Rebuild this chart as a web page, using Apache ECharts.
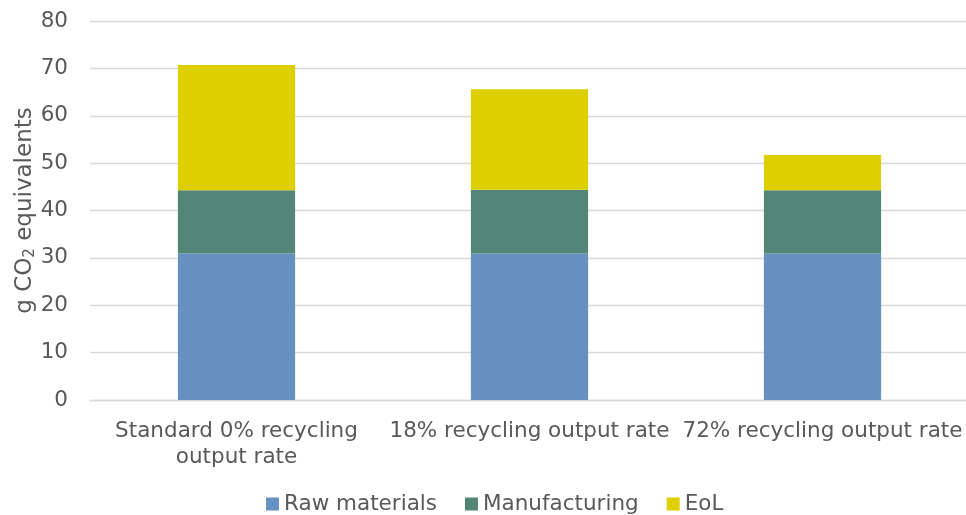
<!DOCTYPE html>
<html>
<head>
<meta charset="utf-8">
<script src="https://cdn.jsdelivr.net/npm/echarts@6/dist/echarts.min.js"></script>
<style>
html,body{margin:0;padding:0;background:#fff;}
#chart{width:966px;height:515px;}
</style>
</head>
<body>
<div id="chart"></div>
<script>
const categories = ["Standard 0% recycling\noutput rate", "18% recycling output rate", "72% recycling output rate"];
const rawMaterials = [30.9, 30.9, 30.9];
const manufacturing = [13.4, 13.5, 13.4];
const eol = [26.4, 21.2, 7.4];
const yTicks = [0, 80, 10];

const font = "'DejaVu Sans', Verdana, sans-serif";
const txt = '#595959';
const fs = 21.5;
const chart = echarts.init(document.getElementById('chart'), null, {renderer: 'canvas'});
chart.setOption({
  animation: false,
  textStyle: {fontFamily: font},
  grid: {left: 90, right: -3, top: 21, bottom: 115, containLabel: false, outerBoundsMode: 'none'},
  legend: {
    bottom: -5, left: 261,
    itemWidth: 13, itemHeight: 13, itemGap: 28,
    icon: 'rect',
    textStyle: {fontFamily: font, fontSize: fs, color: txt},
    data: ['Raw materials', 'Manufacturing', 'EoL']
  },
  xAxis: {
    type: 'category',
    data: categories,
    axisLine: {show: true, lineStyle: {color: '#d9d9d9', width: 1.3}},
    axisTick: {show: false},
    axisLabel: {interval: 0, fontFamily: font, fontSize: fs, color: txt, lineHeight: 26, margin: 18}
  },
  yAxis: {
    type: 'value',
    min: yTicks[0], max: yTicks[1], interval: yTicks[2],
    name: '{a|g CO}{s|2}{a| equivalents}',
    nameLocation: 'middle',
    nameGap: 52,
    nameMoveOverlap: false,
    nameRotate: 90,
    nameTextStyle: {
      fontFamily: font, fontSize: 23, color: txt,
      rich: {
        a: {fontFamily: font, fontSize: 23, color: txt, verticalAlign: 'middle'},
        s: {fontFamily: font, fontSize: 15, color: txt, verticalAlign: 'bottom', padding: [10, 0, 0, 0]}
      }
    },
    axisLine: {show: false},
    axisTick: {show: false},
    axisLabel: {fontFamily: font, fontSize: fs, color: txt, margin: 22},
    splitLine: {lineStyle: {color: '#d9d9d9', width: 1.3}}
  },
  series: [
    {name: 'Raw materials', type: 'bar', stack: 's', data: rawMaterials, barWidth: '40%', itemStyle: {color: '#6690bf'}},
    {name: 'Manufacturing', type: 'bar', stack: 's', data: manufacturing, itemStyle: {color: '#538677'}},
    {name: 'EoL', type: 'bar', stack: 's', data: eol, itemStyle: {color: '#ded000'}}
  ]
});
</script>
</body>
</html>
